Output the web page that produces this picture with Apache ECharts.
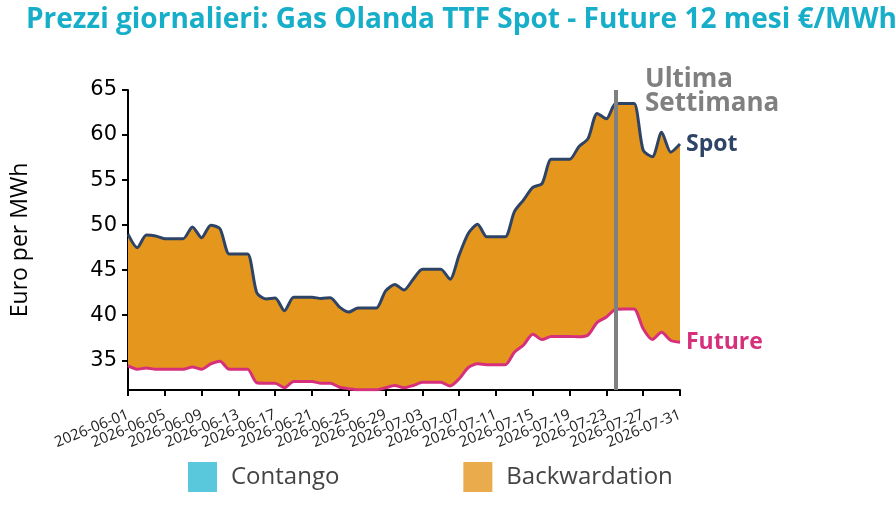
<!DOCTYPE html>
<html>
<head>
<meta charset="UTF-8">
<title>Prezzi giornalieri TTF</title>
<script type="text/javascript" src="https://cdn.jsdelivr.net/npm/echarts@6.0.0/dist/echarts.min.js"></script>
<style>
	html, body { margin: 0; padding: 0; background: #fff; }
</style>
</head>
<body>
	<div id="chart" style="width: 896px; height: 510px;"></div>

	<script type="text/javascript">
	// date giornaliere, dal 1 giugno al 31 luglio
	var dates = [
		'2026-06-01','2026-06-02','2026-06-03','2026-06-04','2026-06-05','2026-06-06','2026-06-07','2026-06-08','2026-06-09','2026-06-10',
		'2026-06-11','2026-06-12','2026-06-13','2026-06-14','2026-06-15','2026-06-16','2026-06-17','2026-06-18','2026-06-19','2026-06-20',
		'2026-06-21','2026-06-22','2026-06-23','2026-06-24','2026-06-25','2026-06-26','2026-06-27','2026-06-28','2026-06-29','2026-06-30',
		'2026-07-01','2026-07-02','2026-07-03','2026-07-04','2026-07-05','2026-07-06','2026-07-07','2026-07-08','2026-07-09','2026-07-10',
		'2026-07-11','2026-07-12','2026-07-13','2026-07-14','2026-07-15','2026-07-16','2026-07-17','2026-07-18','2026-07-19','2026-07-20',
		'2026-07-21','2026-07-22','2026-07-23','2026-07-24','2026-07-25','2026-07-26','2026-07-27','2026-07-28','2026-07-29','2026-07-30',
		'2026-07-31'
	];

	var spot = [
		49.0, 47.5, 48.9, 48.8, 48.5, 48.5, 48.5, 49.8, 48.6, 50.0,
		49.6, 46.8, 46.8, 46.8, 42.5, 41.8, 41.9, 40.5, 42.0, 42.0,
		42.0, 41.85, 41.95, 40.9, 40.35, 40.8, 40.8, 40.8, 42.7, 43.4,
		42.8, 44.0, 45.1, 45.1, 45.1, 44.0, 46.7, 49.1, 50.1, 48.7,
		48.7, 48.7, 51.5, 52.8, 54.2, 54.6, 57.3, 57.3, 57.3, 58.7,
		59.6, 62.4, 61.8, 63.5, 63.5, 63.5, 58.3, 57.6, 60.3, 58.1,
		59.0
	];

	var future = [
		34.4, 34.0, 34.15, 34.0, 34.0, 34.0, 34.0, 34.25, 34.0, 34.6,
		34.9, 34.0, 34.0, 34.0, 32.5, 32.45, 32.45, 31.95, 32.65, 32.65,
		32.65, 32.45, 32.45, 32.0, 31.85, 31.72, 31.72, 31.72, 31.95, 32.2,
		31.95, 32.2, 32.55, 32.55, 32.55, 32.15, 32.95, 34.2, 34.6, 34.5,
		34.5, 34.5, 35.9, 36.7, 37.9, 37.3, 37.65, 37.65, 37.65, 37.6,
		37.8, 39.2, 39.8, 40.65, 40.7, 40.7, 38.5, 37.3, 38.1, 37.2,
		37.0
	];

	var yTicks = [35, 40, 45, 50, 55, 60, 65];
	var lastWeek = '2026-07-24';

	// base e differenze per le aree
	var base = [], contango = [], backwardation = [];
	for (var i = 0; i < dates.length; i++) {
		base[i] = Math.min(spot[i], future[i]);
		contango[i] = Math.max(future[i] - spot[i], 0);
		backwardation[i] = Math.max(spot[i] - future[i], 0);
	}

	var chart = echarts.init(document.getElementById('chart'));
	var sm = 0.25;

	var option = {
		animation: false,
		title: {
			text: 'Prezzi giornalieri: Gas Olanda TTF Spot - Future 12 mesi €/MWh',
			left: 21,
			top: 1,
			textStyle: { color: '#17aec9', fontSize: 28, fontWeight: 'bold', fontFamily: 'Open Sans' }
		},
		legend: {
			left: 188,
			top: 462,
			padding: 0,
			itemWidth: 29,
			itemHeight: 30,
			itemGap: 124,
			icon: 'rect',
			textStyle: { color: '#444', fontSize: 24, fontFamily: 'Open Sans', padding: [0, 0, 0, 9] },
			data: [
				{ name: 'Contango', itemStyle: { color: '#59c8dc' } },
				{ name: 'Backwardation', itemStyle: { color: '#eaab4c' } }
			]
		},
		graphic: [{
			type: 'text',
			left: 645,
			top: 67,
			style: {
				text: 'Ultima\nSettimana',
				fill: '#808080',
				font: 'bold 26px "Open Sans"',
				lineHeight: 24
			}
		}],
		grid: { left: 128, top: 90, width: 552, height: 300 },
		xAxis: {
			type: 'category',
			boundaryGap: false,
			data: dates,
			axisLine: { lineStyle: { color: '#000', width: 2 } },
			axisTick: { interval: 3, length: 6, lineStyle: { color: '#000', width: 2 } },
			axisLabel: {
				interval: 0, rotate: 22, fontSize: 15, color: '#222', fontFamily: 'Open Sans', margin: 24,
				formatter: function (value, index) {
					return index % 4 === 0 ? value : '';
				}
			},
			splitLine: { show: false }
		},
		yAxis: {
			type: 'value',
			min: 31.7,
			max: 65,
			name: 'Euro per MWh',
			nameLocation: 'middle',
			nameGap: 96,
			nameTextStyle: { fontSize: 23, color: '#000', fontFamily: 'Open Sans' },
			axisLine: { show: true, lineStyle: { color: '#000', width: 2 } },
			axisTick: { show: true, length: 6, customValues: yTicks, lineStyle: { color: '#000', width: 2 } },
			axisLabel: { fontSize: 21, color: '#000', fontFamily: 'DejaVu Sans', margin: 11, customValues: yTicks },
			splitLine: { show: false }
		},
		series: [{
			name: 'base',
			type: 'line',
			stack: 'fill',
			data: base,
			smooth: sm,
			symbol: 'none',
			silent: true,
			lineStyle: { width: 0 }
		}, {
			name: 'Contango',
			type: 'line',
			stack: 'fill',
			data: contango,
			smooth: sm,
			symbol: 'none',
			silent: true,
			itemStyle: { color: '#59c8dc' },
			lineStyle: { width: 0 },
			areaStyle: { color: '#59c8dc', opacity: 1 }
		}, {
			name: 'Backwardation',
			type: 'line',
			stack: 'fill',
			data: backwardation,
			smooth: sm,
			symbol: 'none',
			silent: true,
			itemStyle: { color: '#e5961d' },
			lineStyle: { width: 0 },
			areaStyle: { color: '#e5961d', opacity: 1 }
		}, {
			name: 'Spot',
			type: 'line',
			data: spot,
			smooth: sm,
			symbol: 'none',
			lineStyle: { color: '#2e4466', width: 3 },
			itemStyle: { color: '#2e4466' },
			endLabel: {
				show: true, formatter: '{a}', distance: 6,
				color: '#2e4466', fontSize: 23, fontWeight: 'bold', fontFamily: 'Open Sans'
			},
			markLine: {
				silent: true,
				symbol: 'none',
				label: { show: false },
				lineStyle: { color: '#808080', width: 4, type: 'solid' },
				data: [{ xAxis: lastWeek }]
			}
		}, {
			name: 'Future',
			type: 'line',
			data: future,
			smooth: sm,
			symbol: 'none',
			lineStyle: { color: '#d62f7b', width: 3 },
			itemStyle: { color: '#d62f7b' },
			endLabel: {
				show: true, formatter: '{a}', distance: 6,
				color: '#d62f7b', fontSize: 23, fontWeight: 'bold', fontFamily: 'Open Sans'
			}
		}]
	};

	chart.setOption(option);
	</script>
</body>
</html>
